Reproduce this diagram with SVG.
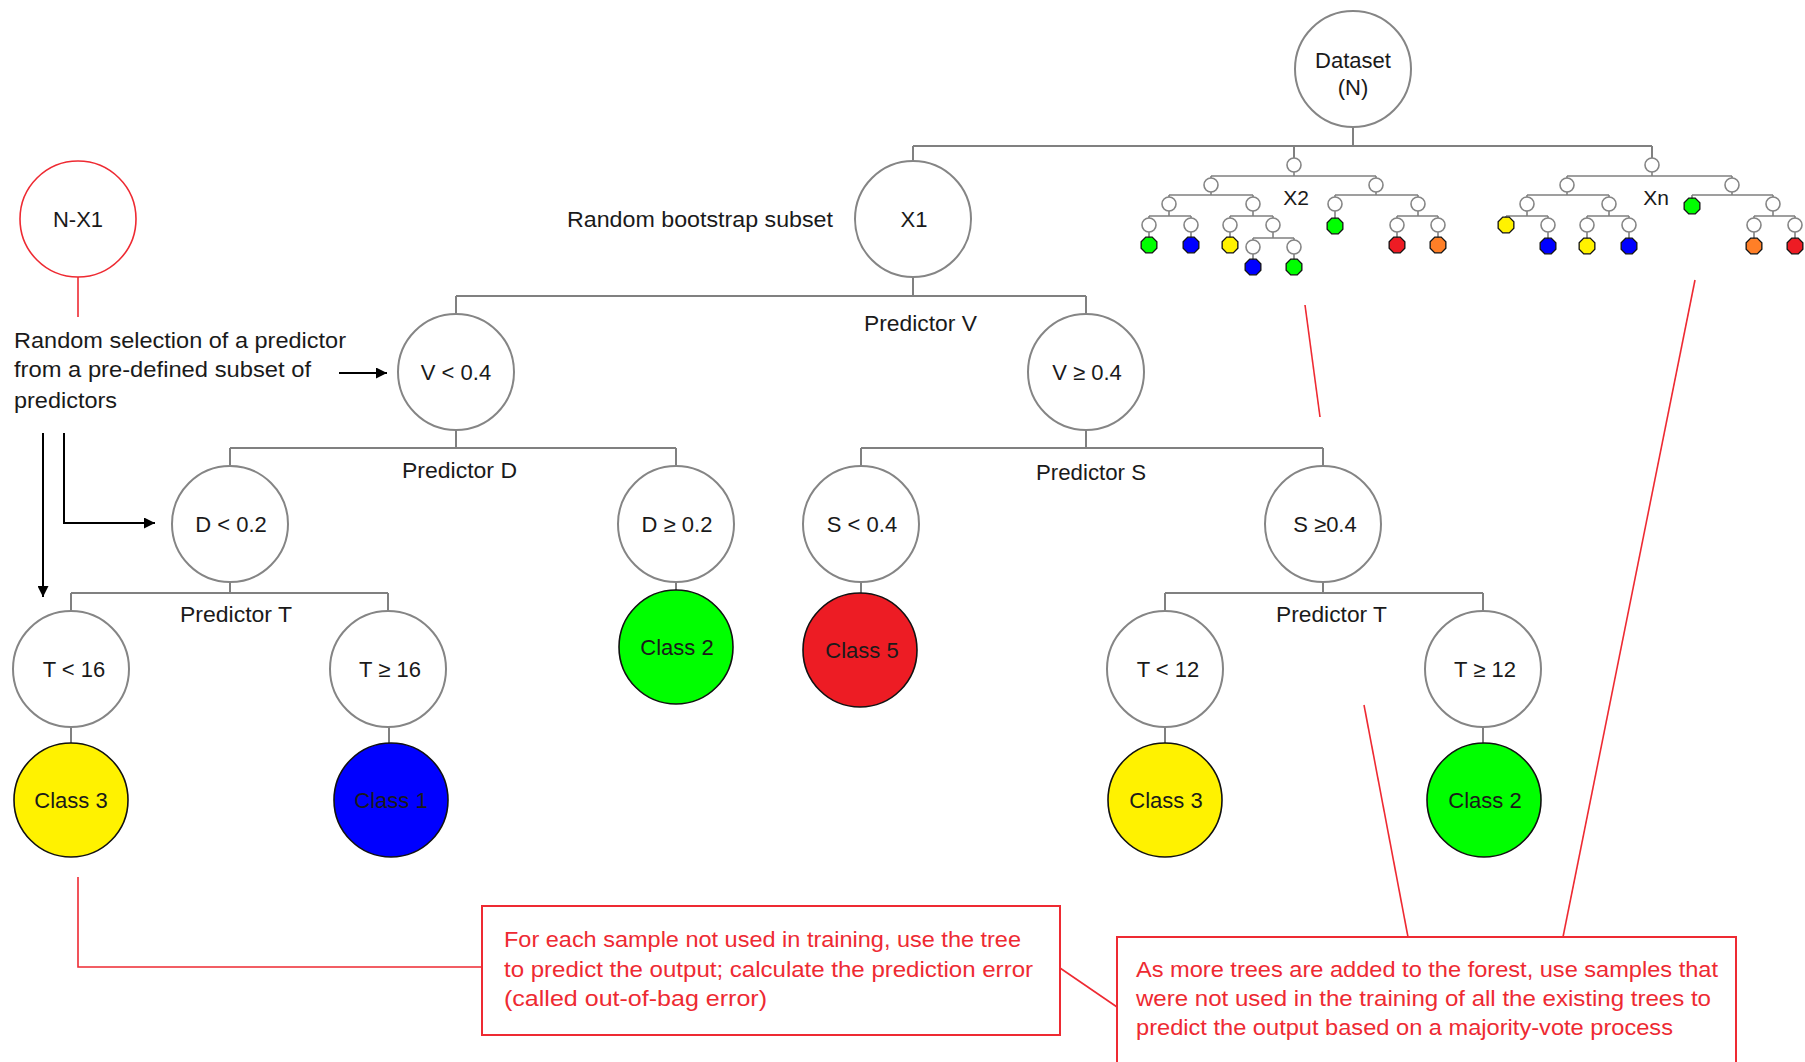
<svg xmlns="http://www.w3.org/2000/svg" width="1805" height="1062" viewBox="0 0 1805 1062">
<style>
  .bg{fill:#ffffff}
  .conn{fill:none;stroke:#808080;stroke-width:2}
  .sconn{fill:none;stroke:#808080;stroke-width:1.6}
  .red{fill:none;stroke:#ee2a32;stroke-width:1.6}
  .arrow{fill:none;stroke:#000;stroke-width:2}
  .node{fill:#ffffff;stroke:#858585;stroke-width:2}
  .rnode{fill:#ffffff;stroke:#ee2a32;stroke-width:1.6}
  .cls{stroke:#111;stroke-width:1.6}
  .lbl{font-family:"Liberation Sans",Arial,sans-serif;font-size:22px;fill:#1a1a1a;text-anchor:middle}
  .ann{font-family:"Liberation Sans",Arial,sans-serif;font-size:22px;fill:#1a1a1a}
  .rtxt{font-family:"Liberation Sans",Arial,sans-serif;font-size:22px;fill:#ee2a32}
  .small{font-family:"Liberation Sans",Arial,sans-serif;font-size:21px;fill:#1a1a1a;text-anchor:middle}
  .hn{fill:#ffffff;stroke:#858585;stroke-width:1.6}
  .rbox{fill:#ffffff;stroke:#ee2a32;stroke-width:2}
</style>
<defs>
  <marker id="ah" viewBox="0 0 10 10" refX="10" refY="5" markerWidth="11" markerHeight="11" markerUnits="userSpaceOnUse" orient="auto">
    <path d="M0,0 L10,5 L0,10 z" fill="#000"/>
  </marker>
  <polygon id="oct" points="3.25,-7.85 7.85,-3.25 7.85,3.25 3.25,7.85 -3.25,7.85 -7.85,3.25 -7.85,-3.25 -3.25,-7.85" stroke="#111" stroke-width="1.3"/>
  <circle id="hn" r="7" class="hn"/>
</defs>
<rect class="bg" x="0" y="0" width="1805" height="1062"/>

<g id="connectors">
  <path class="conn" d="M1353,127V146 M913,146H1652 M913,146V161 M1294,146V158 M1652,146V158"/>
  <path class="conn" d="M913,277V296 M456,296H1086 M456,296V314 M1086,296V314"/>
  <path class="conn" d="M456,430V448 M230,448H676 M230,448V466 M676,448V466"/>
  <path class="conn" d="M1086,430V448 M861,448H1323 M861,448V466 M1323,448V466"/>
  <path class="conn" d="M230,582V593 M71,593H388 M71,593V611 M388,593V611"/>
  <path class="conn" d="M1323,582V593 M1165,593H1483 M1165,593V611 M1483,593V611"/>
  <path class="conn" d="M71,727V743 M389,727V743 M676,582V590 M861,582V593 M1165,727V743 M1483,727V743"/>
  <g id="x2-connectors">
    <path class="sconn" d="M1294,165V176M1211,176H1376M1211,176V185M1376,176V185"/>
    <path class="sconn" d="M1211,185V195M1169,195H1253M1169,195V204M1253,195V204"/>
    <path class="sconn" d="M1376,185V195M1335,195H1418M1335,195V204M1418,195V204"/>
    <path class="sconn" d="M1169,204V216M1149,216H1191M1149,216V225M1191,216V225"/>
    <path class="sconn" d="M1253,204V216M1230,216H1273M1230,216V225M1273,216V225"/>
    <path class="sconn" d="M1418,204V216M1397,216H1438M1397,216V225M1438,216V225"/>
    <path class="sconn" d="M1273,225V238M1253,238H1294M1253,238V247M1294,238V247"/>
    <path class="sconn" d="M1149,225V245M1191,225V245M1230,225V245M1253,247V267M1294,247V267M1335,204V226M1397,225V245M1438,225V245"/>
  </g>
  <g id="xn-connectors">
    <path class="sconn" d="M1652,165V176M1567,176H1732M1567,176V185M1732,176V185"/>
    <path class="sconn" d="M1567,185V195M1527,195H1609M1527,195V204M1609,195V204"/>
    <path class="sconn" d="M1732,185V195M1692,195H1773M1692,195V206M1773,195V204"/>
    <path class="sconn" d="M1527,204V216M1506,216H1548M1506,216V225M1548,216V225"/>
    <path class="sconn" d="M1609,204V216M1587,216H1629M1587,216V225M1629,216V225"/>
    <path class="sconn" d="M1773,204V216M1754,216H1795M1754,216V225M1795,216V225"/>
    <path class="sconn" d="M1548,225V246M1587,225V246M1629,225V246M1754,225V246M1795,225V246"/>
  </g>
  <g id="annotation-lines">
    <path class="red" d="M78,277V317"/>
    <path class="red" d="M78,877V967H482"/>
    <path class="red" d="M1060,968L1117,1007"/>
    <path class="red" d="M1305,305L1320,417"/>
    <path class="red" d="M1364,705L1408,937"/>
    <path class="red" d="M1695,280L1563,937"/>
  </g>
  <g id="arrows">
    <path class="arrow" d="M339,373H387" marker-end="url(#ah)"/>
    <path class="arrow" d="M64,433V523H155" marker-end="url(#ah)"/>
    <path class="arrow" d="M43,433V597" marker-end="url(#ah)"/>
  </g>
</g>

<g id="node-dataset"><circle class="node" cx="1353" cy="69" r="58"/><text class="lbl" x="1353" y="68">Dataset</text><text class="lbl" x="1353" y="95">(N)</text></g>
<g id="node-x1"><circle class="node" cx="913" cy="219" r="58"/><text class="lbl" x="914" y="227">X1</text></g>
<g id="node-nx1"><circle class="rnode" cx="78" cy="219" r="58"/><text class="lbl" x="78" y="227">N-X1</text></g>
<g id="node-v-lt"><circle class="node" cx="456" cy="372" r="58"/><text class="lbl" x="456" y="380">V &lt; 0.4</text></g>
<g id="node-v-ge"><circle class="node" cx="1086" cy="372" r="58"/><text class="lbl" x="1087" y="380">V ≥ 0.4</text></g>
<g id="node-d-lt"><circle class="node" cx="230" cy="524" r="58"/><text class="lbl" x="231" y="532">D &lt; 0.2</text></g>
<g id="node-d-ge"><circle class="node" cx="676" cy="524" r="58"/><text class="lbl" x="677" y="532">D ≥ 0.2</text></g>
<g id="node-s-lt"><circle class="node" cx="861" cy="524" r="58"/><text class="lbl" x="862" y="532">S &lt; 0.4</text></g>
<g id="node-s-ge"><circle class="node" cx="1323" cy="524" r="58"/><text class="lbl" x="1325" y="532">S ≥0.4</text></g>
<g id="node-t-lt16"><circle class="node" cx="71" cy="669" r="58"/><text class="lbl" x="74" y="677">T &lt; 16</text></g>
<g id="node-t-ge16"><circle class="node" cx="388" cy="669" r="58"/><text class="lbl" x="390" y="677">T ≥ 16</text></g>
<g id="node-t-lt12"><circle class="node" cx="1165" cy="669" r="58"/><text class="lbl" x="1168" y="677">T &lt; 12</text></g>
<g id="node-t-ge12"><circle class="node" cx="1483" cy="669" r="58"/><text class="lbl" x="1485" y="677">T ≥ 12</text></g>
<g id="node-class3-left"><circle class="cls" fill="#fff200" cx="71" cy="800" r="57"/><text class="lbl" x="71" y="808">Class 3</text></g>
<g id="node-class1"><circle class="cls" fill="#0000ff" cx="391" cy="800" r="57"/><text class="lbl" x="391" y="808">Class 1</text></g>
<g id="node-class2-mid"><circle class="cls" fill="#00ff00" cx="676" cy="647" r="57"/><text class="lbl" x="677" y="655">Class 2</text></g>
<g id="node-class5"><circle class="cls" fill="#ed1c24" cx="860" cy="650" r="57"/><text class="lbl" x="862" y="658">Class 5</text></g>
<g id="node-class3-right"><circle class="cls" fill="#fff200" cx="1165" cy="800" r="57"/><text class="lbl" x="1166" y="808">Class 3</text></g>
<g id="node-class2-right"><circle class="cls" fill="#00ff00" cx="1484" cy="800" r="57"/><text class="lbl" x="1485" y="808">Class 2</text></g>

<g id="tree-x2">
  <use href="#hn" x="1294" y="165"/><use href="#hn" x="1211" y="185"/><use href="#hn" x="1376" y="185"/>
  <use href="#hn" x="1169" y="204"/><use href="#hn" x="1253" y="204"/><use href="#hn" x="1335" y="204"/><use href="#hn" x="1418" y="204"/>
  <use href="#hn" x="1149" y="225"/><use href="#hn" x="1191" y="225"/><use href="#hn" x="1230" y="225"/><use href="#hn" x="1273" y="225"/>
  <use href="#hn" x="1397" y="225"/><use href="#hn" x="1438" y="225"/><use href="#hn" x="1253" y="247"/><use href="#hn" x="1294" y="247"/>
  <use href="#oct" x="1149" y="245" fill="#00ff00"/><use href="#oct" x="1191" y="245" fill="#0000ff"/><use href="#oct" x="1230" y="245" fill="#fff200"/>
  <use href="#oct" x="1253" y="267" fill="#0000ff"/><use href="#oct" x="1294" y="267" fill="#00ff00"/><use href="#oct" x="1335" y="226" fill="#00ff00"/>
  <use href="#oct" x="1397" y="245" fill="#ed1c24"/><use href="#oct" x="1438" y="245" fill="#ff7f27"/>
  <text class="small" x="1296" y="205">X2</text>
</g>
<g id="tree-xn">
  <use href="#hn" x="1652" y="165"/><use href="#hn" x="1567" y="185"/><use href="#hn" x="1732" y="185"/>
  <use href="#hn" x="1527" y="204"/><use href="#hn" x="1609" y="204"/><use href="#hn" x="1773" y="204"/>
  <use href="#hn" x="1548" y="225"/><use href="#hn" x="1587" y="225"/><use href="#hn" x="1629" y="225"/><use href="#hn" x="1754" y="225"/><use href="#hn" x="1795" y="225"/>
  <use href="#oct" x="1506" y="225" fill="#fff200"/><use href="#oct" x="1548" y="246" fill="#0000ff"/><use href="#oct" x="1587" y="246" fill="#fff200"/>
  <use href="#oct" x="1629" y="246" fill="#0000ff"/><use href="#oct" x="1692" y="206" fill="#00ff00"/><use href="#oct" x="1754" y="246" fill="#ff7f27"/>
  <use href="#oct" x="1795" y="246" fill="#ed1c24"/>
  <text class="small" x="1656" y="205">Xn</text>
</g>

<g id="labels">
  <text class="ann" x="567" y="227" textLength="266" lengthAdjust="spacingAndGlyphs">Random bootstrap subset</text>
  <text class="ann" x="864" y="331" textLength="113" lengthAdjust="spacingAndGlyphs">Predictor V</text>
  <text class="ann" x="402" y="478" textLength="115" lengthAdjust="spacingAndGlyphs">Predictor D</text>
  <text class="ann" x="1036" y="480" textLength="110" lengthAdjust="spacingAndGlyphs">Predictor S</text>
  <text class="ann" x="180" y="622" textLength="112" lengthAdjust="spacingAndGlyphs">Predictor T</text>
  <text class="ann" x="1276" y="622" textLength="111" lengthAdjust="spacingAndGlyphs">Predictor T</text>
</g>

<g id="note-predictor-selection">
  <text class="ann" x="14" y="348" textLength="332" lengthAdjust="spacingAndGlyphs">Random selection of a predictor</text>
  <text class="ann" x="14" y="377" textLength="297" lengthAdjust="spacingAndGlyphs">from a pre-defined subset of</text>
  <text class="ann" x="14" y="408" textLength="103" lengthAdjust="spacingAndGlyphs">predictors</text>
</g>

<g id="note-oob">
  <rect class="rbox" x="482" y="906" width="578" height="129"/>
  <text class="rtxt" x="504" y="947" textLength="517" lengthAdjust="spacingAndGlyphs">For each sample not used in training, use the tree</text>
  <text class="rtxt" x="504" y="977" textLength="529" lengthAdjust="spacingAndGlyphs">to predict the output; calculate the prediction error</text>
  <text class="rtxt" x="504" y="1006" textLength="263" lengthAdjust="spacingAndGlyphs">(called out-of-bag error)</text>
</g>

<g id="note-forest">
  <rect class="rbox" x="1117" y="937" width="619" height="150"/>
  <text class="rtxt" x="1136" y="977" textLength="582" lengthAdjust="spacingAndGlyphs">As more trees are added to the forest, use samples that</text>
  <text class="rtxt" x="1136" y="1006" textLength="575" lengthAdjust="spacingAndGlyphs">were not used in the training of all the existing trees to</text>
  <text class="rtxt" x="1136" y="1035" textLength="537" lengthAdjust="spacingAndGlyphs">predict the output based on a majority-vote process</text>
</g>
</svg>
